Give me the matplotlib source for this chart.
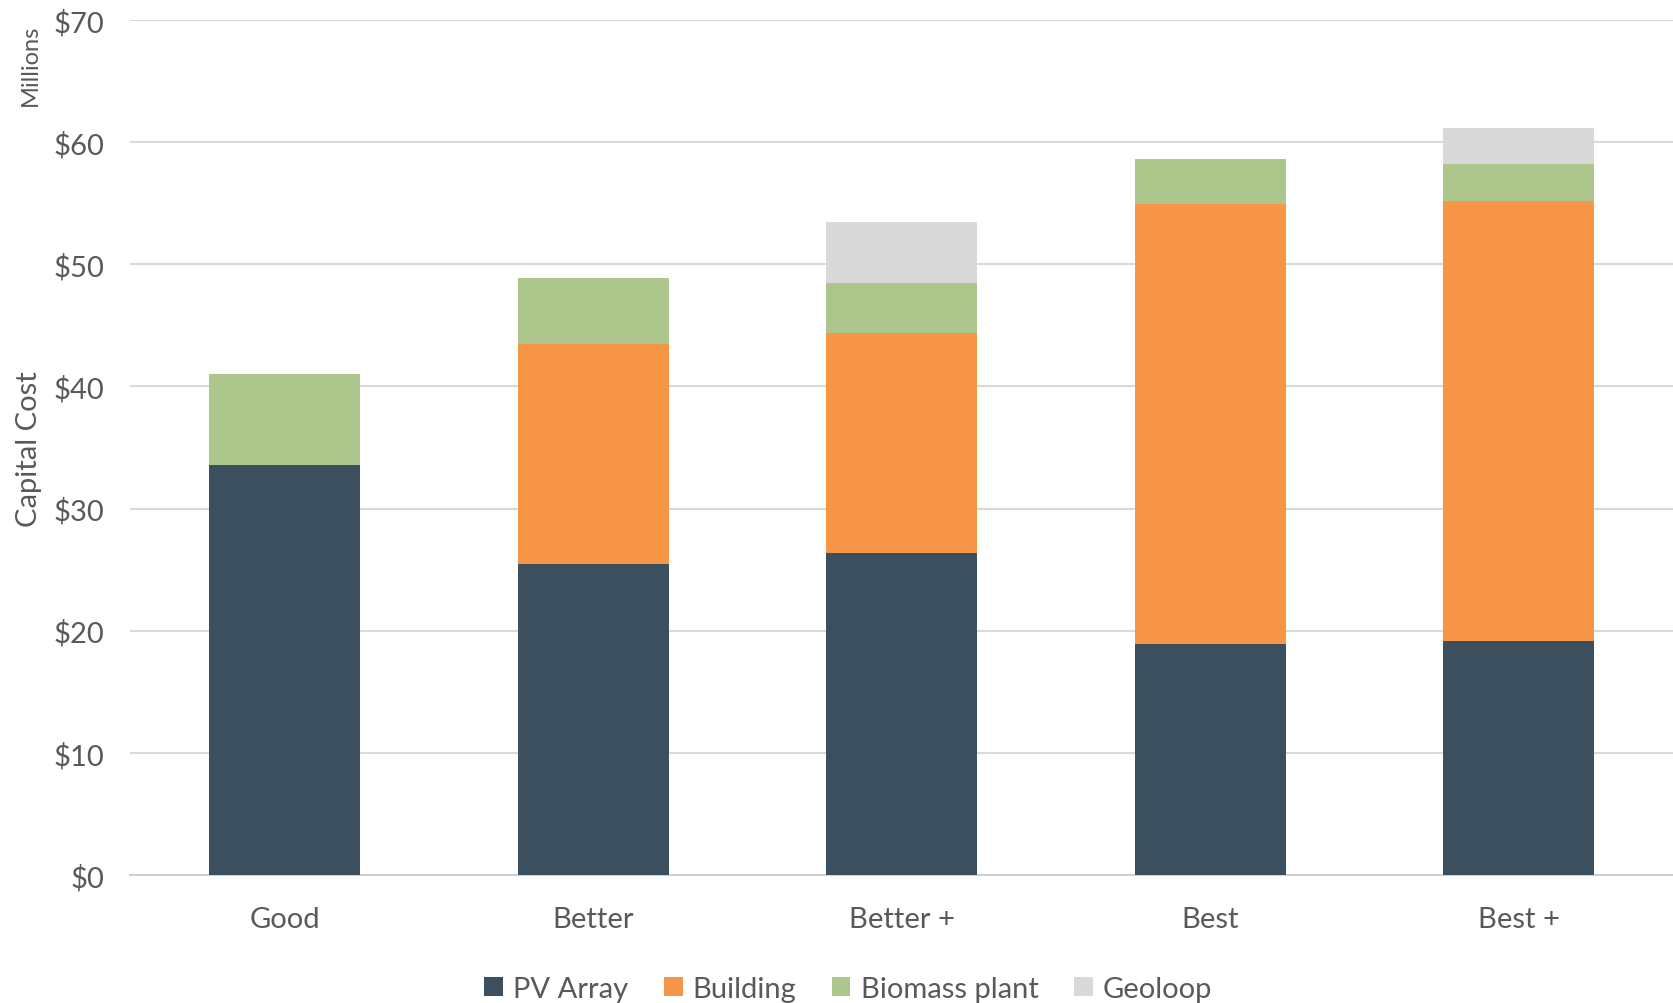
import numpy as np
import matplotlib.pyplot as plt

plt.rcParams['font.family'] = ['Lato', 'DejaVu Sans']

options = ['Good', 'Better', 'Better +', 'Best', 'Best +']
pv_array = [33.6, 25.5, 26.4, 18.9, 19.2]
building = [0.0, 18.0, 18.0, 36.0, 36.0]
biomass = [7.4, 5.4, 4.1, 3.7, 3.0]
geoloop = [0.0, 0.0, 5.0, 0.0, 3.0]

series = [('PV Array', pv_array, '#3B4F5E'),
          ('Building', building, '#F79646'),
          ('Biomass plant', biomass, '#ADC68C'),
          ('Geoloop', geoloop, '#D9D9D9')]

txt = '#595959'

fig = plt.figure(figsize=(16.73, 10.04), dpi=100)
ax = fig.add_axes([0.078, 0.1275, 0.922, 0.8515])

x = np.arange(len(options))
bottom = np.zeros(len(options))
for name, vals, col in series:
    ax.bar(x, vals, 0.49, bottom=bottom, color=col, label=name, zorder=3)
    bottom += np.array(vals)

ax.set_xlim(-0.5, 4.5)
ax.set_ylim(0, 70)
ax.set_yticks(np.arange(0, 71, 10))
ax.set_yticklabels(['$%d' % v for v in range(0, 71, 10)])
ax.set_xticks(x)
ax.set_xticklabels(options)
ax.tick_params(axis='both', length=0, labelsize=21, colors=txt)
ax.tick_params(axis='y', pad=19)
ax.tick_params(axis='x', pad=22)
ax.grid(axis='y', color='#D9D9D9', linewidth=1.5, zorder=0)
for s in ['top', 'right', 'left']:
    ax.spines[s].set_visible(False)
ax.spines['bottom'].set_color('#D0D0D0')
ax.spines['bottom'].set_linewidth(1.5)

fig.text(0.0175, 0.553, 'Capital Cost', rotation=90, ha='center', va='center',
         fontsize=21, color=txt)
fig.text(0.018, 0.975, 'Millions', rotation=90, ha='center', va='top',
         fontsize=17, color=txt)

fig.legend(loc='lower center', bbox_to_anchor=(0.507, -0.025), ncol=4,
           frameon=False, fontsize=21, handlelength=0.65, handleheight=0.65,
           handletextpad=0.35, columnspacing=1.2, labelcolor=txt)

fig.savefig('out.png', dpi=100)
